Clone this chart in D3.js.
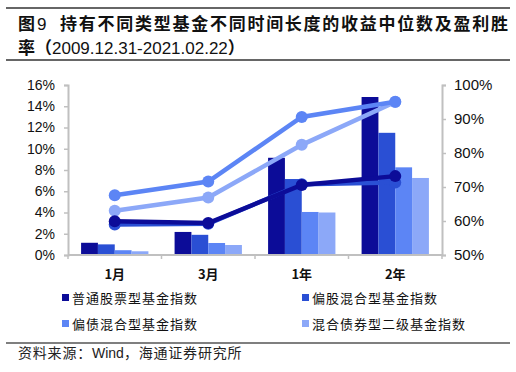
<!DOCTYPE html>
<html>
<head>
<meta charset="utf-8">
<script src="https://cdn.jsdelivr.net/npm/d3@7"></script>
<style>
  body { margin: 0; background: #fff; }
  svg { display: block; }
  .cjk { font-family: "Noto Sans CJK SC", sans-serif; }
  .num { font-family: "Liberation Sans", Arial, sans-serif; }
</style>
</head>
<body>
<svg id="chart" width="516" height="372"></svg>
<script>
const periods = ['1月', '3月', '1年', '2年'];
const seriesNames = ['普通股票型基金指数', '偏股混合型基金指数', '偏债混合型基金指数', '混合债券型二级基金指数'];
const colors = ['#0c0c98', '#2a4fd4', '#5c85f5', '#8ca8f8'];

// median return (%) per series, per period - left axis
const medianBySeries = [
  [1.15, 2.17, 9.15, 14.87],
  [1.0, 1.9, 7.15, 11.5],
  [0.45, 1.13, 4.05, 8.25],
  [0.35, 0.94, 4.0, 7.25]
];
// win rate (%) per series, per period - right axis
const winRate = [
  [59.9, 59.4, 70.6, 73.2],
  [59.0, 59.2, 70.8, 71.3],
  [67.6, 71.6, 90.6, 95.1],
  [63.0, 66.9, 82.4, 95.0]
];
const leftTicks = [0, 2, 4, 6, 8, 10, 12, 14, 16];
const rightTicks = [50, 60, 70, 80, 90, 100];

const svg = d3.select('#chart');
const plotLeft = 68, plotRight = 442, plotTop = 85, plotBottom = 255;

// title block
svg.append('line').attr('x1', 6).attr('x2', 510).attr('y1', 8).attr('y2', 8)
  .attr('stroke', '#333').attr('stroke-width', 1.5);
svg.append('line').attr('x1', 6).attr('x2', 510).attr('y1', 60).attr('y2', 60)
  .attr('stroke', '#333').attr('stroke-width', 1.5);
svg.append('text').attr('class', 'cjk').attr('x', 18).attr('y', 30)
  .attr('font-size', 17).attr('font-weight', 'bold').attr('fill', '#111').text('图');
svg.append('text').attr('class', 'num').attr('x', 37).attr('y', 30)
  .attr('font-size', 17).attr('fill', '#111').text('9');
svg.append('text').attr('class', 'cjk').attr('x', 60).attr('y', 30)
  .attr('font-size', 17).attr('font-weight', 'bold').attr('fill', '#111')
  .attr('textLength', 448).attr('lengthAdjust', 'spacing')
  .text('持有不同类型基金不同时间长度的收益中位数及盈利胜');
const t2 = svg.append('text').attr('x', 18).attr('y', 54).attr('font-size', 17).attr('fill', '#111');
t2.append('tspan').attr('class', 'cjk').attr('font-weight', 'bold').text('率（');
t2.append('tspan').attr('class', 'num').text('2009.12.31-2021.02.22');
t2.append('tspan').attr('class', 'cjk').attr('font-weight', 'bold').text('）');

const x = d3.scaleBand().domain(periods).range([plotLeft, plotRight]);
const bw = x.bandwidth();
const x1 = d3.scaleBand().domain(d3.range(seriesNames.length))
  .range([bw * 0.14, bw * 0.86]);
const yL = d3.scaleLinear().domain([0, 16]).range([plotBottom, plotTop]);
const yR = d3.scaleLinear().domain([50, 100]).range([plotBottom, plotTop]);

// bars
medianBySeries.forEach((vals, s) => {
  svg.append('g').selectAll('rect')
    .data(vals)
    .enter()
      .append('rect')
      .attr('x', (d, i) => x(periods[i]) + x1(s))
      .attr('width', x1.bandwidth())
      .attr('y', d => yL(d))
      .attr('height', d => yL(0) - yL(d))
      .attr('fill', colors[s]);
});

// axes
const axisColor = '#c0c0c0';
const gL = svg.append('g').attr('transform', `translate(${plotLeft},0)`)
  .call(d3.axisLeft(yL).tickValues(leftTicks).tickFormat(d => d + '%').tickSize(4).tickPadding(9));
const gR = svg.append('g').attr('transform', `translate(${plotRight},0)`)
  .call(d3.axisRight(yR).tickValues(rightTicks).tickFormat(d => d + '%').tickSize(4).tickPadding(8));
[gL, gR].forEach(g => {
  g.select('.domain').attr('stroke', axisColor).attr('stroke-width', 2);
  g.selectAll('.tick line').attr('stroke', axisColor).attr('stroke-width', 1.5);
  g.selectAll('text').attr('class', 'num').attr('font-size', 14).attr('fill', '#111');
});
gR.selectAll('text').attr('font-size', 15);

const gX = svg.append('g').attr('transform', `translate(0,${plotBottom})`);
gX.append('line').attr('x1', plotLeft).attr('x2', plotRight).attr('y1', 0).attr('y2', 0)
  .attr('stroke', axisColor).attr('stroke-width', 2);
gX.selectAll('.xt')
  .data(d3.range(periods.length + 1))
  .enter()
    .append('line')
    .attr('x1', i => plotLeft + i * bw).attr('x2', i => plotLeft + i * bw)
    .attr('y1', 0).attr('y2', 4)
    .attr('stroke', axisColor).attr('stroke-width', 1.5);
gX.selectAll('.xl')
  .data(periods)
  .enter()
    .append('text')
    .attr('class', 'cjk')
    .attr('x', d => x(d) + bw / 2)
    .attr('y', 24)
    .attr('text-anchor', 'middle')
    .attr('font-size', 13)
    .attr('font-weight', 'bold')
    .attr('fill', '#111')
    .text(d => d);

// lines (light ones first, dark on top)
const line = d3.line()
  .x((d, i) => x(periods[i]) + bw / 2)
  .y(d => yR(d));
[3, 2, 1, 0].forEach((s) => {
  const g = svg.append('g');
  g.append('path')
    .attr('d', line(winRate[s]))
    .attr('fill', 'none')
    .attr('stroke', colors[s])
    .attr('stroke-width', 4.5);
  g.selectAll('circle')
    .data(winRate[s])
    .enter()
      .append('circle')
      .attr('cx', (d, i) => x(periods[i]) + bw / 2)
      .attr('cy', d => yR(d))
      .attr('r', 6)
      .attr('fill', colors[s]);
});

// legend
const legendPos = [[62, 298], [302, 298], [62, 324], [302, 324]];
seriesNames.forEach((name, s) => {
  const [lx, ly] = legendPos[s];
  svg.append('rect').attr('x', lx).attr('y', ly - 4).attr('width', 7).attr('height', 7)
    .attr('fill', colors[s]);
  svg.append('text').attr('class', 'cjk').attr('x', lx + 10).attr('y', ly + 5)
    .attr('font-size', 13).attr('fill', '#111').attr('letter-spacing', 1)
    .text(name);
});

// source
svg.append('line').attr('x1', 6).attr('x2', 510).attr('y1', 343).attr('y2', 343)
  .attr('stroke', '#555').attr('stroke-width', 1.5);
const src = svg.append('text').attr('x', 18).attr('y', 358).attr('font-size', 14).attr('fill', '#222');
src.append('tspan').attr('class', 'cjk').attr('letter-spacing', 0.8).text('资料来源：');
src.append('tspan').attr('class', 'num').text('Wind');
src.append('tspan').attr('class', 'cjk').attr('letter-spacing', 0.8).text('，海通证券研究所');
</script>
</body>
</html>
